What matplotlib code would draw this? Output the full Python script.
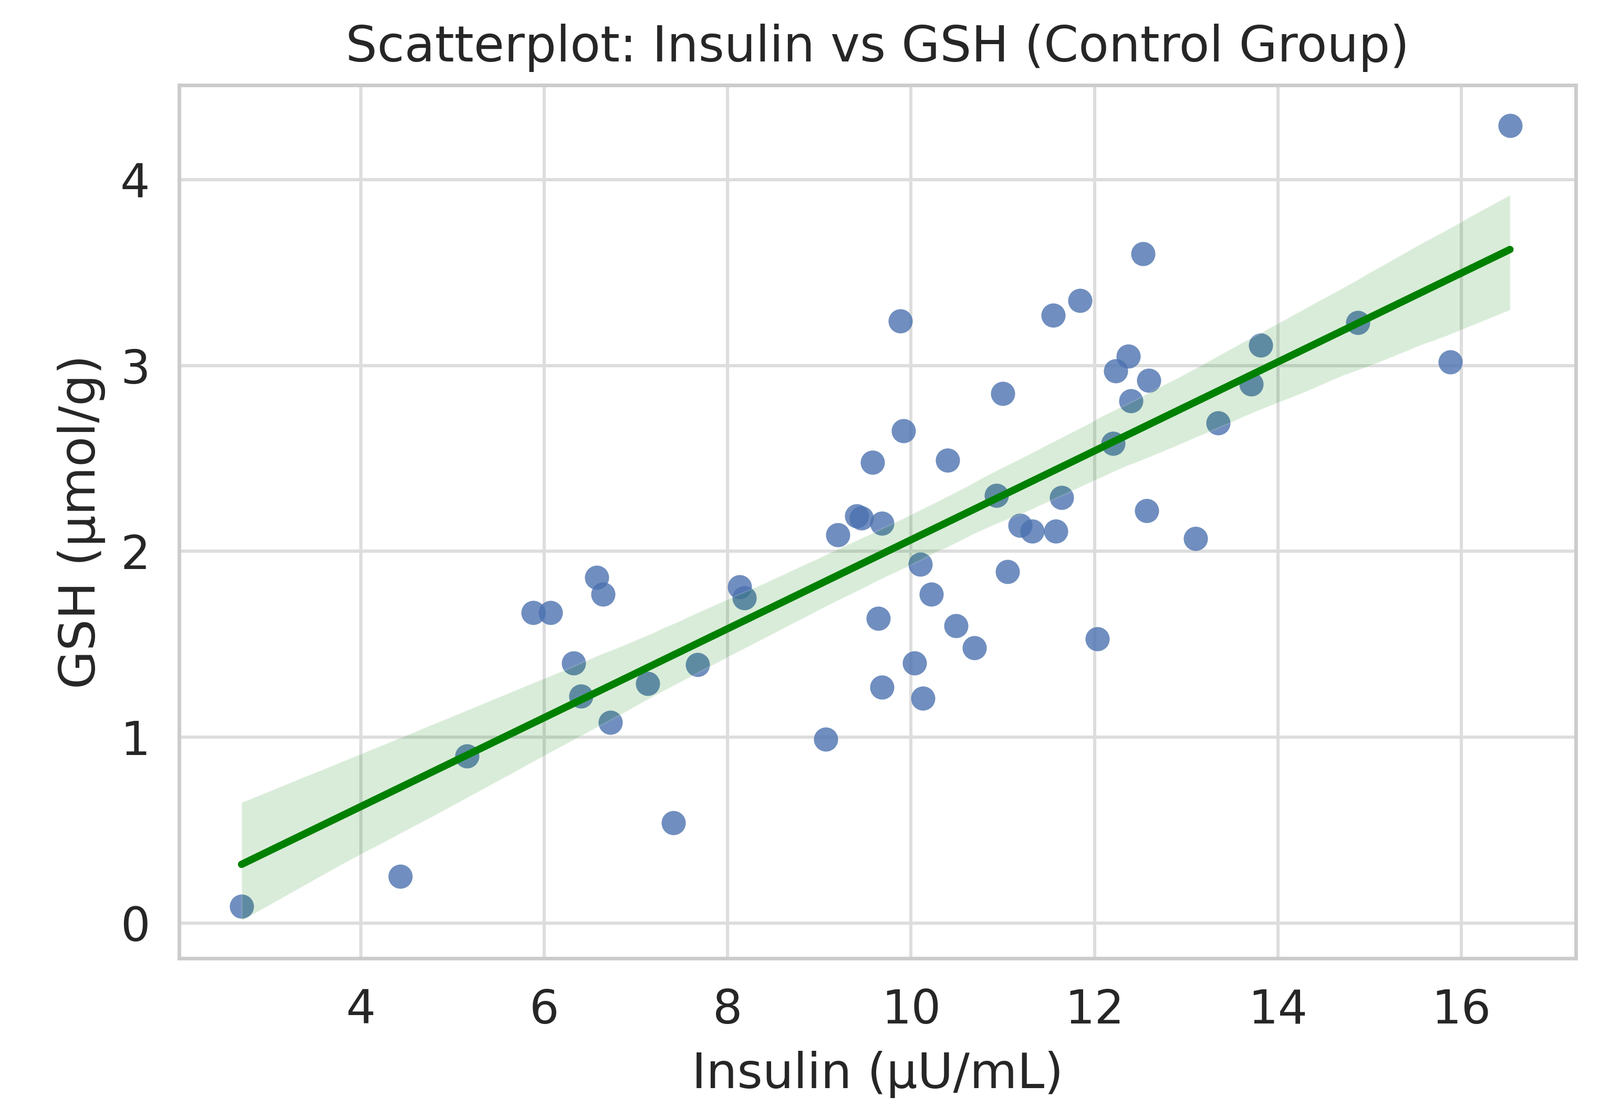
import numpy as np
import pandas as pd
import matplotlib
matplotlib.use("Agg")
import matplotlib.pyplot as plt
import seaborn as sns

# values
insulin = [2.70, 4.43, 5.16, 5.88, 6.07, 6.32, 6.40, 6.57, 6.64, 6.72,
           7.13, 7.41, 7.67, 8.13, 8.18, 9.07, 9.20, 9.41, 9.46, 9.58,
           9.64, 9.68, 9.68, 9.88, 9.92, 10.04, 10.10, 10.13, 10.22, 10.40,
           10.49, 10.69, 10.93, 11.00, 11.05, 11.19, 11.32, 11.55, 11.58, 11.64,
           11.84, 12.03, 12.20, 12.23, 12.37, 12.40, 12.53, 12.57, 12.59, 13.10,
           13.35, 13.71, 13.81, 14.87, 15.88, 16.53]
gsh = [0.09, 0.25, 0.90, 1.67, 1.67, 1.40, 1.22, 1.86, 1.77, 1.08,
       1.29, 0.54, 1.39, 1.81, 1.75, 0.99, 2.09, 2.19, 2.18, 2.48,
       1.64, 1.27, 2.15, 3.24, 2.65, 1.40, 1.93, 1.21, 1.77, 2.49,
       1.60, 1.48, 2.30, 2.85, 1.89, 2.14, 2.11, 3.27, 2.11, 2.29,
       3.35, 1.53, 2.58, 2.97, 3.05, 2.81, 3.60, 2.22, 2.92, 2.07,
       2.69, 2.90, 3.11, 3.23, 3.02, 4.29]

df = pd.DataFrame({"Insulin": insulin, "GSH": gsh})

sns.set_theme(style="whitegrid")
plt.rcParams["font.family"] = ["DejaVu Sans"]

fig = plt.figure(figsize=(15.23, 10.63), dpi=200)
ax = fig.add_axes([0.112, 0.142, 0.873, 0.782])

sns.regplot(data=df, x="Insulin", y="GSH", ax=ax, seed=3,
            scatter_kws={"s": 275, "color": "#4c72b0", "alpha": 0.8, "linewidths": 0},
            line_kws={"color": "green", "linewidth": 5})

ax.set_xlim(2.02, 17.25)
ax.set_ylim(-0.19, 4.51)
ax.set_xticks([4, 6, 8, 10, 12, 14, 16])
ax.set_yticks([0, 1, 2, 3, 4])

ax.set_title("Scatterplot: Insulin vs GSH (Control Group)", fontsize=34, color="#262626", pad=16)
ax.set_xlabel("Insulin (µU/mL)", fontsize=33.5, color="#262626", labelpad=12)
ax.set_ylabel("GSH (µmol/g)", fontsize=34, color="#262626", labelpad=10)
ax.tick_params(labelsize=32, colors="#262626", pad=14)

ax.grid(True, color="#dddddd", linewidth=2.2)
for sp in ax.spines.values():
    sp.set_color("#cccccc")
    sp.set_linewidth(2.5)

fig.savefig("out.png", dpi=200)
